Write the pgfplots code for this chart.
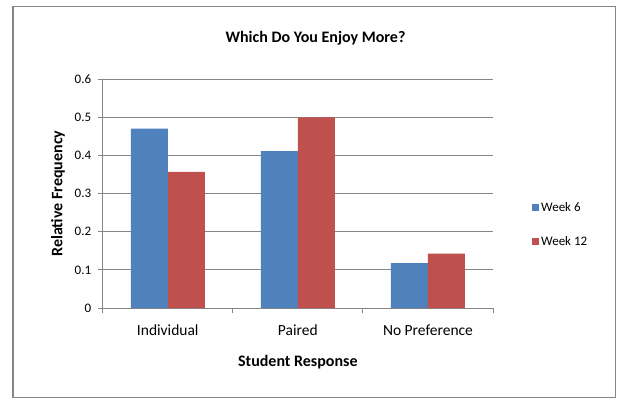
\documentclass[border=0pt]{standalone}
\usepackage{fontspec}
\setmainfont{Carlito}
\usepackage{pgfplots}
\pgfplotsset{compat=1.18}
\definecolor{weeksix}{HTML}{4F81BD}
\definecolor{weektwelve}{HTML}{C0504D}
\definecolor{axisgray}{HTML}{868686}
\begin{document}
\begin{tikzpicture}[x=1pt,y=1pt]
\useasboundingbox (0,0) rectangle (617,399);
% chart frame
\draw[axisgray, line width=1.8pt] (13,1.5) rectangle (615.5,392.5);
% chart title
\node[font=\fontsize{16}{19}\selectfont\bfseries, anchor=base] at (315.5,356.5) {Which Do You Enjoy More?};
\begin{axis}[
  at={(102.7pt,91pt)}, anchor=south west,
  scale only axis, width=390.3pt, height=228.7pt,
  xmin=-0.5, xmax=2.5, ymin=0, ymax=0.6,
  ybar=0pt, bar width=37pt,
  axis lines*=left,
  axis line style={axisgray, line width=1pt},
  ytick={0,0.1,0.2,0.3,0.4,0.5,0.6},
  ymajorgrids,
  grid style={axisgray, line width=1pt},
  xtick={-0.5,0.5,1.5,2.5}, xticklabels={},
  extra x ticks={0,1,2},
  extra x tick labels={Individual,Paired,No Preference},
  extra x tick style={major tick length=0pt, xmajorgrids=false,
    xticklabel style={anchor=base, yshift=-27.5pt}},
  tick align=outside, major tick length=5pt,
  tick style={axisgray, line width=1pt},
  /pgf/number format/assume math mode=true,
  xticklabel style={font=\fontsize{15.5}{18}\selectfont, text=black},
  yticklabel style={font=\fontsize{13}{15}\selectfont, text=black, xshift=-3pt},
  xlabel={Student Response},
  ylabel={Relative Frequency},
  xlabel style={at={(axis description cs:0.5,-0.2560)}, anchor=base,
    font=\fontsize{16}{19}\selectfont\bfseries},
  ylabel style={at={(axis description cs:-0.1145,0.5)}, anchor=center,
    font=\fontsize{16}{19}\selectfont\bfseries},
  legend style={at={(axis description cs:1.0999,0.365)}, anchor=west,
    draw=none, fill=none, inner sep=0pt, row sep=19pt,
    font=\fontsize{13}{15}\selectfont, cells={anchor=west},
    /tikz/every odd column/.append style={column sep=0pt}},
  legend image code/.code={\path[#1] (0pt,-3.5pt) rectangle (7pt,3.5pt);},
]
\addplot[fill=weeksix, draw=none] coordinates {(0,0.4706) (1,0.4118) (2,0.1176)};
\addplot[fill=weektwelve, draw=none] coordinates {(0,0.3571) (1,0.5) (2,0.1429)};
\legend{Week 6, Week 12}
\end{axis}
\end{tikzpicture}
\end{document}
